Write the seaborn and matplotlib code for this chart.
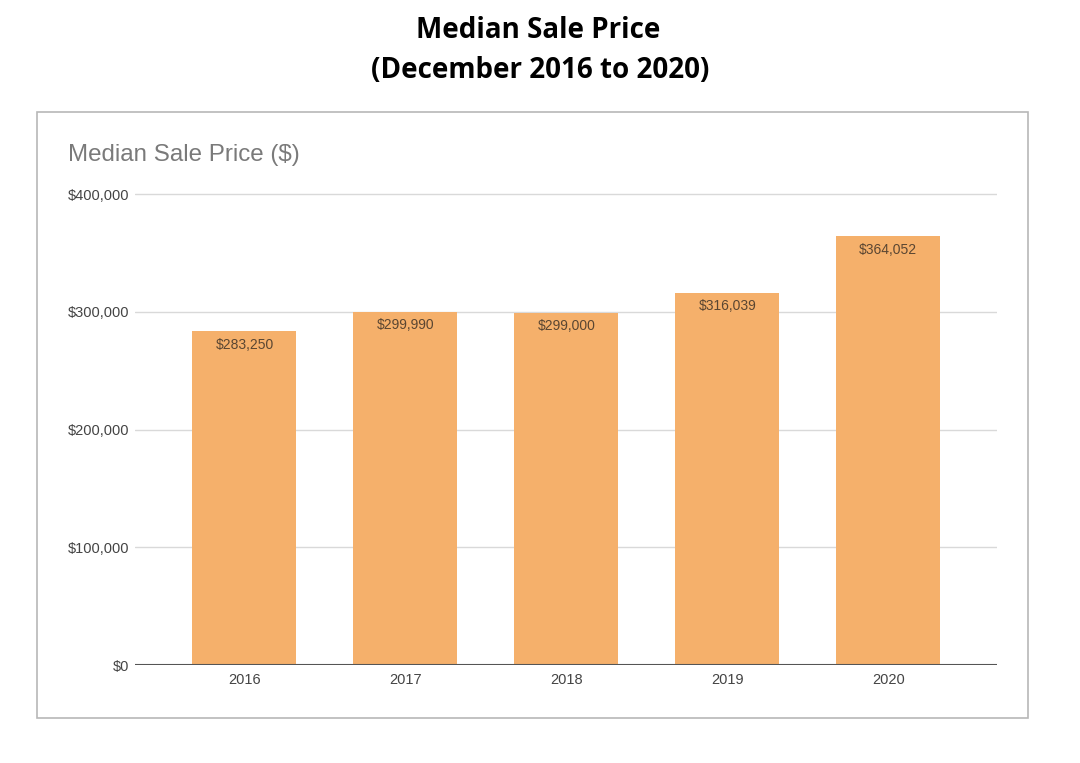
import matplotlib
matplotlib.use("Agg")
import matplotlib.pyplot as plt
import seaborn as sns
import pandas as pd
from matplotlib.patches import Rectangle
from matplotlib.ticker import FuncFormatter

years = ["2016", "2017", "2018", "2019", "2020"]
prices = [283250, 299990, 299000, 316039, 364052]
yticks = [0, 100000, 200000, 300000, 400000]

df = pd.DataFrame({"year": years, "price": prices})

sns.set_theme(style="white")
plt.rcParams["font.family"] = ["Liberation Sans", "DejaVu Sans"]

W, H = 1080, 763
fig = plt.figure(figsize=(W / 100, H / 100), dpi=100)
fig.patch.set_facecolor("white")

# inner framed panel
fig.patches.append(Rectangle((37 / W, 1 - 718 / H), (1028 - 37) / W, (718 - 112) / H,
                             transform=fig.transFigure, fill=False,
                             edgecolor="#b8b8b8", linewidth=1.2))

top_val = 420000
ax_h = (665 - 194) / H * top_val / 400000
ax = fig.add_axes([135 / W, 1 - 665 / H, (997 - 135) / W, ax_h])

sns.barplot(data=df, x="year", y="price", color="#F5B06B", saturation=1,
            width=0.646, ax=ax, zorder=3, linewidth=0)

ax.set_xlim(-0.68, 4.675)
ax.set_ylim(0, top_val)
ax.set_yticks(yticks)
ax.yaxis.set_major_formatter(FuncFormatter(lambda v, p: f"${int(v):,}"))
ax.grid(axis="y", color="#d9d9d9", linewidth=1, zorder=0)
ax.set_axisbelow(True)
for s in ax.spines.values():
    s.set_visible(False)
ax.axhline(0, color="#555555", linewidth=1.5, zorder=4)
ax.set_xlabel("")
ax.set_ylabel("")
ax.tick_params(axis="y", length=0, pad=4, labelsize=10.5, labelcolor="#444444")
ax.tick_params(axis="x", length=0, pad=6, labelsize=10.5, labelcolor="#444444")

for i, v in enumerate(prices):
    ax.annotate(f"${v:,}", xy=(i, v), xytext=(0, -9.5), textcoords="offset points",
                ha="center", va="center", fontsize=10, color="#5a4632", zorder=5)

fig.text(68 / W, 1 - 155 / H, "Median Sale Price ($)", ha="left", va="center",
         fontsize=17.4, color="#7a7a7a")

fig.text(538 / W, 1 - 30 / H, "Median Sale Price", ha="center", va="center",
         fontsize=20, fontweight="bold", family=["Open Sans", "DejaVu Sans"], color="black")
fig.text(540 / W, 1 - 70 / H, "(December 2016 to 2020)", ha="center", va="center",
         fontsize=20, fontweight="bold", family=["Open Sans", "DejaVu Sans"], color="black")

fig.savefig("out.png", dpi=100, facecolor="white")
